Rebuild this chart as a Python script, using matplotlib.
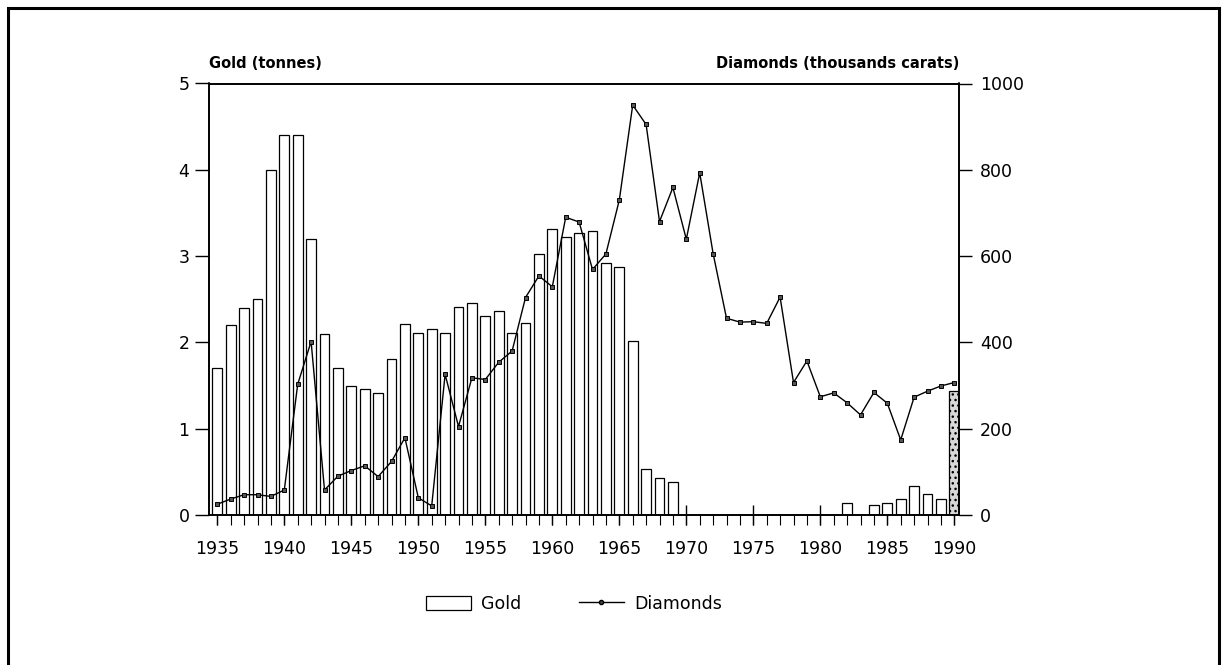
import matplotlib
matplotlib.use('Agg')
import matplotlib.pyplot as plt
from matplotlib.patches import Rectangle, Patch
from matplotlib.lines import Line2D
from matplotlib.ticker import MultipleLocator

plt.rcParams['font.family'] = ['DejaVu Sans']

years = list(range(1935, 1991))
gold = [1.70, 2.20, 2.40, 2.50, 4.00, 4.40, 4.40, 3.20, 2.10, 1.70,
        1.50, 1.46, 1.41, 1.81, 2.21, 2.11, 2.16, 2.11, 2.41, 2.46,
        2.31, 2.36, 2.11, 2.22, 3.02, 3.31, 3.22, 3.27, 3.29, 2.92,
        2.87, 2.02, 0.53, 0.43, 0.38,
        0, 0, 0, 0, 0, 0, 0, 0, 0, 0, 0, 0,
        0.14, 0, 0.12, 0.14, 0.19, 0.34, 0.24, 0.19, 1.44]
diamonds = [25, 37, 47, 47, 43, 58, 303, 402, 58, 90,
            103, 114, 89, 124, 179, 40, 21, 326, 205, 318,
            314, 354, 380, 504, 554, 529, 690, 679, 569, 605,
            730, 950, 905, 680, 759, 639, 793, 606, 456, 447,
            448, 444, 505, 307, 357, 274, 283, 260, 232, 284,
            259, 174, 273, 287, 299, 307]
estimated_years = [1990]

W, H = 1223, 665
fig = plt.figure(figsize=(W / 100, H / 100), dpi=100)
L, R, T, B = 209, 959, 83.5, 515
ax = fig.add_axes([L / W, 1 - B / H, (R - L) / W, (B - T) / H])

colors = ['#d8d8d8' if y in estimated_years else 'white' for y in years]
hatches = ['...' if y in estimated_years else '' for y in years]
bars = ax.bar(years, gold, width=0.73, color=colors, edgecolor='black',
              linewidth=0.9, zorder=2)
for b, h in zip(bars, hatches):
    if h:
        b.set_hatch(h)

ax.set_xlim(1934.38, 1990.35)
ax.set_ylim(0, 5)
ax.xaxis.set_major_locator(MultipleLocator(5))
ax.xaxis.set_minor_locator(MultipleLocator(1))
ax.xaxis.remove_overlapping_locs = False
ax.set_xticks(list(range(1935, 1991, 5)))
ax.set_yticks(range(0, 6))
ax.tick_params(axis='x', which='major', direction='inout', length=14,
               width=1, pad=11, labelsize=12.5)
ax.tick_params(axis='x', which='minor', direction='out', length=7, width=0.8)
ax.tick_params(axis='y', which='major', direction='out', length=10,
               width=1, pad=4, labelsize=12.5)
for s in ax.spines.values():
    s.set_linewidth(1.2)

ax2 = ax.twinx()
ax2.plot(years, diamonds, color='black', linewidth=1.0, marker='s',
         markersize=3.2, markerfacecolor='#555555', markeredgecolor='black',
         markeredgewidth=0.7, zorder=3)
ax2.set_ylim(0, 1000)
ax2.set_yticks(range(0, 1001, 200))
ax2.tick_params(axis='y', direction='out', length=9, width=1, pad=6,
                labelsize=12.5)
for s in ax2.spines.values():
    s.set_linewidth(1.2)

fig.text(L / W, 1 - 63 / H, 'Gold (tonnes)', ha='left', va='center',
         fontsize=10.5, fontweight='bold')
fig.text(R / W, 1 - 63 / H, 'Diamonds (thousands carats)', ha='right',
         va='center', fontsize=10.5, fontweight='bold')

handles = [Patch(facecolor='white', edgecolor='black', linewidth=0.9),
           Line2D([], [], color='black', linewidth=1.0, marker='o',
                  markersize=3, markerfacecolor='#444444',
                  markeredgecolor='black')]
fig.legend(handles, ['Gold', 'Diamonds'], loc='center',
           bbox_to_anchor=(574 / W, 1 - 604 / H), ncol=2, frameon=False,
           fontsize=12.5, handlelength=2.6, handleheight=0.9,
           columnspacing=3.3, handletextpad=0.6, numpoints=1)

fig.patches.append(Rectangle((8 / W, -0.02), (1219 - 8) / W, 1.02 - 8 / H,
                             transform=fig.transFigure, fill=False,
                             edgecolor='black', linewidth=2.2))

fig.savefig('out.png', dpi=100, facecolor='white')
